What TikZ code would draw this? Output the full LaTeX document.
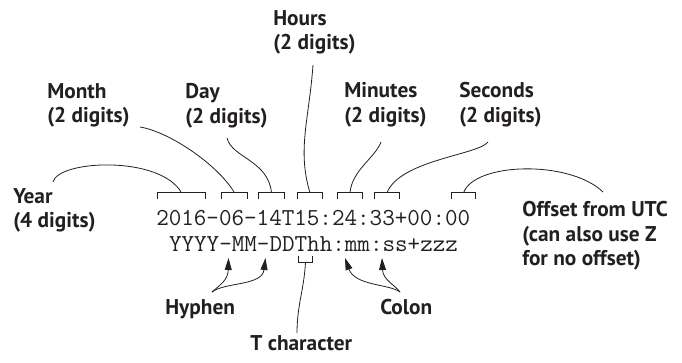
\documentclass[tikz,border=0pt]{standalone}
\usepackage{fontspec}
\setmainfont{PT Sans}
\usetikzlibrary{arrows.meta}
\definecolor{ink}{HTML}{231F20}
\tikzset{
  lbl/.style={font=\bfseries\fontsize{16pt}{18.5pt}\selectfont, align=left,
    inner sep=0pt, anchor=north west, text=ink},
  code/.style={font=\ttfamily\fontsize{18.29pt}{20pt}\selectfont,
    inner sep=0pt, anchor=base west, text=ink},
  tick/.style={inner sep=0pt, minimum height=4.5pt},
  link/.style={draw=ink, line width=0.6pt},
  pointer/.style={link, -{Triangle[length=9pt,width=5.2pt]}},
}
\begin{document}
\begin{tikzpicture}[x=0.75pt, y=-0.75pt]
\useasboundingbox (0,0) rectangle (682,362);

% the timestamp and its pattern
\node[code] (stamp)   at (156,225)   {2016-06-14T15:24:33+00:00};
\node[code] (pattern) at (168.8,251) {YYYY-MM-DDThh:mm:ss+zzz};

% labels
\node[lbl] (hours)   at (273,10)  {Hours\\(2 digits)};
\node[lbl] (month)   at (47,83)   {Month\\(2 digits)};
\node[lbl] (day)     at (185,83)  {Day\\(2 digits)};
\node[lbl] (minutes) at (344,82)  {Minutes\\(2 digits)};
\node[lbl] (seconds) at (459,82)  {Seconds\\(2 digits)};
\node[lbl] (year)    at (13,188)  {Year\\(4 digits)};
\node[lbl] (offset)  at (522,201) {Offset from UTC\\(can also use Z\\for no offset)};
\node[lbl] (hyphen)  at (165,299) {Hyphen};
\node[lbl] (colon)   at (380,299) {Colon};
\node[lbl] (tchar)   at (250,335) {T character};

% label-side ends of the connectors
\coordinate (yearend)    at (53,182);
\coordinate (monthend)   at (140,127);
\coordinate (dayend)     at (227,138);
\coordinate (hoursend)   at (313,65);
\coordinate (minutesend) at (381,142);
\coordinate (secondsend) at (488,142);
\coordinate (offsetend)  at (603,192);
\coordinate (hyphenend)  at (212,292);
\coordinate (colonend)   at (400,292);
\coordinate (tcharend)   at (297,333);

% brackets over the fields of the timestamp
\node[tick, minimum width=47*0.75pt] (by)  at (181.5,196) {};
\node[tick, minimum width=25*0.75pt] (bm)  at (234.5,196) {};
\node[tick, minimum width=25*0.75pt] (bd)  at (271.5,196) {};
\node[tick, minimum width=24*0.75pt] (bh)  at (310,196)   {};
\node[tick, minimum width=24*0.75pt] (bmi) at (350,196)   {};
\node[tick, minimum width=24*0.75pt] (bs)  at (387,196)   {};
\node[tick, minimum width=23*0.75pt] (bo)  at (463.5,196) {};
\foreach \b in {by,bm,bd,bh,bmi,bs,bo}
  \draw[link] (\b.south west) |- (\b.north east) -- (\b.south east);

% bracket under the T of the pattern
\node[tick, minimum width=13*0.75pt] (bt) at (305.5,259) {};
\draw[link] (bt.north west) |- (bt.south east) -- (bt.north east);

% character targets in the pattern
\coordinate (dash1)  at (228.5,258);
\coordinate (dash2)  at (265.5,258);
\coordinate (colon1) at (345,258);
\coordinate (colon2) at (382,258);

% connectors from the labels to the brackets
\draw[link] (yearend) .. controls (58,160) and (160,155) .. (by.north);
\draw[link] (monthend) .. controls (170,132) and (218,165) .. (bm.north);
\draw[link] (dayend) .. controls (232,158) and (268,160) .. (bd.north);
\draw[link] (hoursend) .. controls (309,120) and (297,150) .. (bh.north);
\draw[link] (minutesend) .. controls (375,158) and (352,170) .. (bmi.north);
\draw[link] (secondsend) .. controls (478,155) and (400,160) .. (bs.north);
\draw[link] (offsetend) .. controls (570,160) and (475,162) .. (bo.north);
\draw[link] (bt.south) .. controls (304,290) and (297,305) .. (tcharend);

% arrows to the separators
\draw[pointer] (hyphenend) .. controls (220,285) and (228,280) .. (dash1);
\draw[pointer] (hyphenend) .. controls (225,282) and (262,286) .. (dash2);
\draw[pointer] (colonend) .. controls (390,284) and (355,286) .. (colon1);
\draw[pointer] (colonend) .. controls (395,285) and (383,280) .. (colon2);
\end{tikzpicture}
\end{document}
